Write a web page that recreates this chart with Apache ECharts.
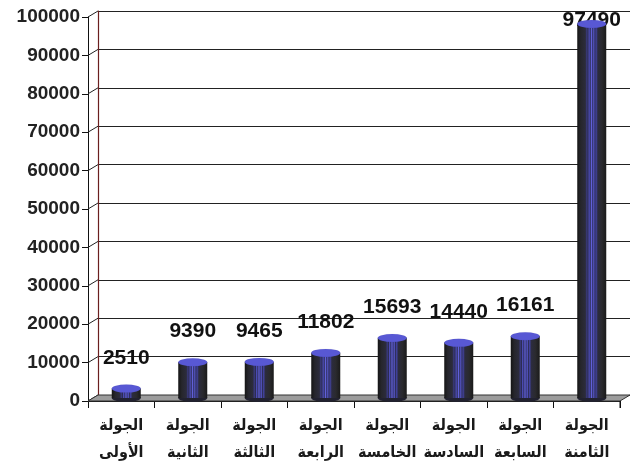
<!DOCTYPE html>
<html><head><meta charset="utf-8">
<script src="https://cdn.jsdelivr.net/npm/echarts@6/dist/echarts.min.js"></script>
<style>html,body{margin:0;padding:0;background:#fff}#c{width:630px;height:461px}</style>
</head><body><div id="c"></div>
<script>
const categories = ['الجولة\nالأولى', 'الجولة\nالثانية', 'الجولة\nالثالثة', 'الجولة\nالرابعة', 'الجولة\nالخامسة', 'الجولة\nالسادسة', 'الجولة\nالسابعة', 'الجولة\nالثامنة'];
const values = [2510, 9390, 9465, 11802, 15693, 14440, 16161, 97490];
const yMin = 0, yMax = 100000, yStep = 10000;

const W = 630, H = 461;
const front = {left: 88, right: 10, top: 17, bottom: 60};
const back = {left: 98, right: 0, top: 11, bottom: 66};
const mid = {left: 93, right: 5, top: 14, bottom: 63};
const BW = 29;

const bodyGrad = new echarts.graphic.LinearGradient(0, 0, 1, 0, [
  {offset: 0, color: '#151515'}, {offset: 0.12, color: '#26262c'},
  {offset: 0.28, color: '#2c2c3c'}, {offset: 0.33, color: '#3a3a80'},
  {offset: 0.37, color: '#2c2c50'}, {offset: 0.41, color: '#4f4fc0'},
  {offset: 0.45, color: '#30305c'}, {offset: 0.49, color: '#6262dc'},
  {offset: 0.53, color: '#34346c'}, {offset: 0.57, color: '#5656c8'},
  {offset: 0.61, color: '#2e2e58'}, {offset: 0.65, color: '#4242a0'},
  {offset: 0.71, color: '#2c2c3e'}, {offset: 0.85, color: '#2a2a2e'},
  {offset: 1, color: '#1a1a1a'}
]);

const chart = echarts.init(document.getElementById('c'), null, {renderer: 'canvas'});
const hiddenCat = (g) => ({type: 'category', gridIndex: g, data: categories, show: false, boundaryGap: true});
const hiddenVal = (g) => ({type: 'value', gridIndex: g, min: yMin, max: yMax, interval: yStep, show: false});

const barData = values.map((v, i) => i === values.length - 1 ? {value: v, label: {distance: -7}} : v);
const gridOpt = (r) => Object.assign({containLabel: false, outerBoundsMode: 'none'}, r);

chart.setOption({
  animation: false,
  backgroundColor: '#fff',
  grid: [gridOpt(front), gridOpt(back), gridOpt(mid)],
  xAxis: [
    {type: 'category', gridIndex: 0, data: categories, boundaryGap: true,
     axisLine: {show: true, lineStyle: {color: '#111', width: 1}},
     axisTick: {show: true, length: 7, lineStyle: {color: '#111'}},
     axisLabel: {color: '#1a1a1a', fontFamily: '"DejaVu Sans Condensed", "DejaVu Sans"', fontWeight: 'bold', fontSize: 16, lineHeight: 27, margin: 11, interval: 0}},
    hiddenCat(1),
    hiddenCat(2)
  ],
  yAxis: [
    {type: 'value', gridIndex: 0, min: yMin, max: yMax, interval: yStep,
     axisLine: {show: true, lineStyle: {color: '#111', width: 1}},
     axisTick: {show: true, length: 6, lineStyle: {color: '#111'}},
     splitLine: {show: false},
     axisLabel: {color: '#222', fontFamily: 'Liberation Sans', fontWeight: 'bold', fontSize: 19, margin: 8,
                 formatter: (v) => String(v)}},
    {type: 'value', gridIndex: 1, min: yMin, max: yMax, interval: yStep,
     axisLine: {show: true, lineStyle: {color: '#6b1f1f', width: 1.2}},
     axisTick: {show: false}, axisLabel: {show: false},
     splitLine: {show: true, lineStyle: {color: '#222', width: 1}}},
    hiddenVal(2)
  ],
  series: [
    {type: 'pictorialBar', xAxisIndex: 2, yAxisIndex: 2, data: values, symbol: 'circle',
     symbolSize: [BW, 8], symbolPosition: 'start', symbolOffset: [0, '50%'], z: 3,
     itemStyle: {color: '#222230'}, barGap: '-100%', barWidth: BW, silent: true},
    {type: 'bar', xAxisIndex: 2, yAxisIndex: 2, data: barData, barWidth: BW, barGap: '-100%', z: 4,
     itemStyle: {color: bodyGrad},
     label: {show: true, position: 'top', distance: 20, color: '#111', fontFamily: 'Liberation Sans',
             fontWeight: 'bold', fontSize: 21}},
    {type: 'pictorialBar', xAxisIndex: 2, yAxisIndex: 2, data: values, symbol: 'circle',
     symbolSize: [BW, 8], symbolPosition: 'end', symbolOffset: [0, '-50%'], z: 5,
     itemStyle: {color: '#5858d4', borderColor: '#1c1c3a', borderWidth: 1}, barGap: '-100%', barWidth: BW, silent: true}
  ]
});

// 3D frame decorations: side wall diagonals and floor
const g = [];
const fx0 = front.left, fx1 = W - front.right, bx0 = back.left, bx1 = W - back.right;
for (let v = yMin; v <= yMax; v += yStep) {
  const pf = chart.convertToPixel({yAxisIndex: 0}, v);
  const pb = chart.convertToPixel({yAxisIndex: 1}, v);
  g.push({type: 'line', z: 1, shape: {x1: fx0, y1: pf, x2: bx0, y2: pb}, style: {stroke: '#222', lineWidth: 1}});
}
const f0 = chart.convertToPixel({yAxisIndex: 0}, 0);
const b0 = chart.convertToPixel({yAxisIndex: 1}, 0);
g.push({type: 'polygon', z: 1, shape: {points: [[fx0, f0], [fx1, f0], [bx1, b0], [bx0, b0]]},
        style: {fill: '#9c9c9c', stroke: '#333', lineWidth: 1}});
g.push({type: 'line', z: 1, shape: {x1: fx1, y1: f0, x2: fx1, y2: f0 + 7}, style: {stroke: '#111', lineWidth: 1}});
chart.setOption({graphic: g});
</script>
</body></html>
